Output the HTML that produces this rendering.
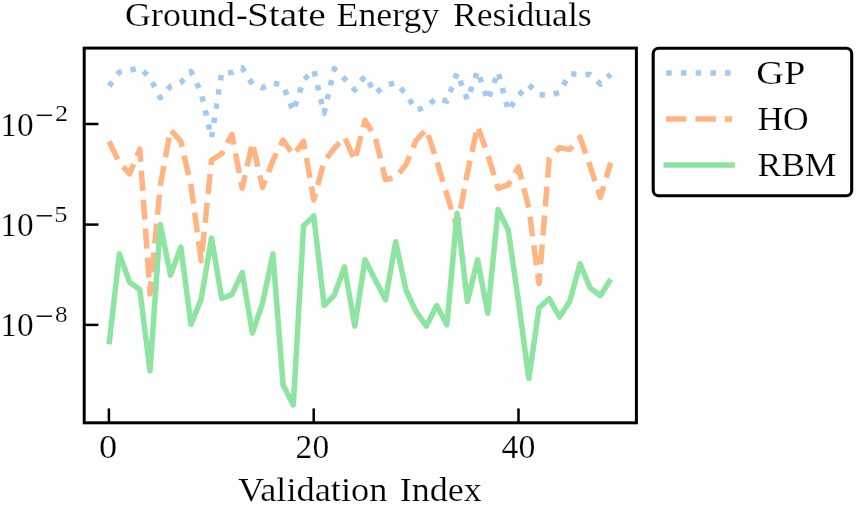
<!DOCTYPE html>
<html><head><meta charset="utf-8"><title>Ground-State Energy Residuals</title>
<style>
html,body{margin:0;padding:0;background:#fff;}
svg{display:block;will-change:transform;opacity:0.999;}
text{font-family:"Liberation Serif",serif;fill:#000;stroke:#fff;stroke-width:0.22px;}
</style></head><body>
<svg width="856" height="505" viewBox="0 0 856 505">

<defs><filter id="soft" filterUnits="userSpaceOnUse" x="0" y="0" width="856" height="505"><feGaussianBlur stdDeviation="0.45"/></filter></defs>
<g filter="url(#soft)">
<!-- data lines -->
<polyline points="109.1,86.2 119.3,72.2 129.6,70.4 139.8,67.9 150.0,77.7 160.3,97.8 170.5,86.3 180.8,82.5 191.0,71.4 201.2,92.7 211.5,137.8 221.7,72.5 231.9,72.5 242.2,67.8 252.4,84.0 262.6,87.8 272.9,83.0 283.1,85.2 293.3,111.5 303.6,79.9 313.8,69.9 324.1,113.2 334.3,68.8 344.5,78.6 354.8,90.0 365.0,75.8 375.2,93.3 385.5,85.5 395.7,82.7 405.9,94.0 416.2,110.3 426.4,106.6 436.7,98.0 446.9,101.2 457.1,72.9 467.4,99.7 477.6,70.9 487.8,100.5 498.1,71.8 508.3,111.0 518.5,95.3 528.8,84.8 539.0,94.6 549.2,95.3 559.5,92.5 569.7,73.6 580.0,74.6 590.2,74.4 600.4,84.2 610.7,74.2" fill="none" stroke="#a1c9f4" stroke-width="5.5" stroke-dasharray="5.4 8.98" stroke-linejoin="round"/>
<polyline points="109.1,141.4 119.3,162.5 129.6,173.8 139.8,149.2 150.0,293.9 160.3,185.5 170.5,129.8 180.8,141.3 191.0,185.5 201.2,260.8 211.5,160.2 221.7,153.7 231.9,134.4 242.2,188.2 252.4,142.6 262.6,187.5 272.9,160.5 283.1,140.0 293.3,155.0 303.6,141.5 313.8,200.0 324.1,161.5 334.3,148.3 344.5,137.0 354.8,160.4 365.0,120.2 375.2,137.0 385.5,179.5 395.7,177.4 405.9,164.8 416.2,140.3 426.4,129.3 436.7,160.8 446.9,194.8 457.1,227.5 467.4,172.8 477.6,126.2 487.8,155.0 498.1,188.5 508.3,184.6 518.5,167.0 528.8,208.0 539.0,283.6 549.2,158.9 559.5,147.6 569.7,149.6 580.0,137.2 590.2,166.5 600.4,197.5 610.7,162.8" fill="none" stroke="#ffb482" stroke-width="5.5" stroke-dasharray="20.0 9.0" stroke-linejoin="round"/>
<polyline points="109.1,344.3 119.3,254.0 129.6,282.3 139.8,289.6 150.0,370.8 160.3,224.4 170.5,275.1 180.8,247.1 191.0,324.4 201.2,299.0 211.5,238.0 221.7,298.3 231.9,294.7 242.2,272.6 252.4,333.0 262.6,302.9 272.9,254.0 283.1,385.0 293.3,405.0 303.6,225.7 313.8,216.0 324.1,305.5 334.3,295.2 344.5,266.9 354.8,326.1 365.0,259.7 375.2,279.8 385.5,299.8 395.7,241.7 405.9,290.0 416.2,311.9 426.4,326.1 436.7,305.5 446.9,324.8 457.1,213.3 467.4,301.6 477.6,259.7 487.8,313.2 498.1,209.4 508.3,230.4 518.5,302.0 528.8,378.5 539.0,308.0 549.2,298.6 559.5,317.0 569.7,301.6 580.0,263.8 590.2,288.0 600.4,295.7 610.7,279.3" fill="none" stroke="#8de5a1" stroke-width="5.5" stroke-linejoin="round"/>
<!-- ticks -->
<g stroke="#000" stroke-width="2.5" fill="none">
<line x1="108.9" y1="422.8" x2="108.9" y2="408.4"/>
<line x1="313.7" y1="422.8" x2="313.7" y2="408.4"/>
<line x1="518.5" y1="422.8" x2="518.5" y2="408.4"/>
<line x1="84.2" y1="124" x2="98.4" y2="124"/>
<line x1="84.2" y1="224.6" x2="98.4" y2="224.6"/>
<line x1="84.2" y1="324.9" x2="98.4" y2="324.9"/>
</g>
<!-- axes frame -->
<rect x="84.2" y="48.1" width="552.2" height="374.7" fill="none" stroke="#000" stroke-width="3.0"/>
<!-- superscript minus signs -->
<g stroke="#111" stroke-width="1.5">
<line x1="36.7" y1="115.3" x2="52.1" y2="115.3"/>
<line x1="36.7" y1="215.8" x2="52.1" y2="215.8"/>
<line x1="36.7" y1="316.2" x2="52.1" y2="316.2"/>
</g>
<!-- legend -->
<rect x="653.2" y="48.3" width="198.5" height="147.5" rx="5.5" ry="5.5" fill="#fff" stroke="#000" stroke-width="3.1"/>
<line x1="666.3" y1="73.0" x2="731.4" y2="73.0" stroke="#a1c9f4" stroke-width="5.5" stroke-dasharray="5.4 9.3"/>
<line x1="666.0" y1="119.0" x2="732.2" y2="119.0" stroke="#ffb482" stroke-width="5.5" stroke-dasharray="20.5 8.9"/>
<line x1="663.5" y1="165.0" x2="734.9" y2="165.0" stroke="#8de5a1" stroke-width="5.5"/>
<!-- text labels -->
<text x="125.1" y="26.0" font-size="33.6" textLength="109.91" lengthAdjust="spacingAndGlyphs">Ground</text>
<text x="236.03" y="26.0" font-size="33.6" textLength="11.68" lengthAdjust="spacingAndGlyphs">-</text>
<text x="246.92" y="26.0" font-size="33.6" textLength="78.77" lengthAdjust="spacingAndGlyphs">State</text>
<text x="336.49" y="26.0" font-size="33.6" textLength="102.88" lengthAdjust="spacingAndGlyphs">Energy</text>
<text x="452.99" y="26.0" font-size="33.6" textLength="138.69" lengthAdjust="spacingAndGlyphs">Residuals</text>
<text x="237.91" y="500.9" font-size="33.6" textLength="149.56" lengthAdjust="spacingAndGlyphs">Validation</text>
<text x="399.83" y="500.9" font-size="33.6" textLength="81.77" lengthAdjust="spacingAndGlyphs">Index</text>
<text x="99.01" y="457.9" font-size="34.4" textLength="18.24" lengthAdjust="spacingAndGlyphs">0</text>
<text x="295.61" y="457.9" font-size="34.4" textLength="33.54" lengthAdjust="spacingAndGlyphs">20</text>
<text x="501.52" y="457.9" font-size="34.4" textLength="33.84" lengthAdjust="spacingAndGlyphs">40</text>
<text x="0.22" y="135.5" font-size="34.4" textLength="33.32" lengthAdjust="spacingAndGlyphs">10</text>
<text x="0.22" y="235.9" font-size="34.4" textLength="33.32" lengthAdjust="spacingAndGlyphs">10</text>
<text x="0.22" y="336.2" font-size="34.4" textLength="33.32" lengthAdjust="spacingAndGlyphs">10</text>
<text x="55.06" y="120.9" font-size="22.3" textLength="13.16" lengthAdjust="spacingAndGlyphs">2</text>
<text x="54.37" y="221.5" font-size="22.3" textLength="13.24" lengthAdjust="spacingAndGlyphs">5</text>
<text x="55.12" y="321.9" font-size="22.3" textLength="12.62" lengthAdjust="spacingAndGlyphs">8</text>
<text x="756.37" y="84.2" font-size="33.6" textLength="49.12" lengthAdjust="spacingAndGlyphs">GP</text>
<text x="757.49" y="129.9" font-size="33.6" textLength="51.18" lengthAdjust="spacingAndGlyphs">HO</text>
<text x="757.49" y="175.8" font-size="33.6" textLength="78.98" lengthAdjust="spacingAndGlyphs">RBM</text>
</g>
</svg>
</body></html>
